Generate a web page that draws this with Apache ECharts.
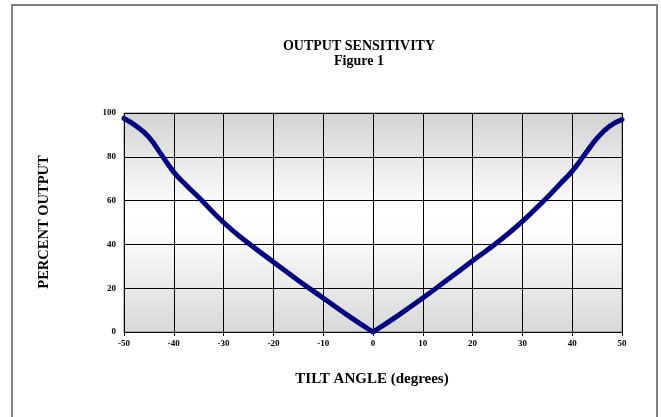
<!DOCTYPE html>
<html>
<head>
<meta charset="utf-8">
<script src="https://cdn.jsdelivr.net/npm/echarts@6/dist/echarts.min.js"></script>
<style>
  html, body { margin: 0; padding: 0; background: #ffffff; }
  #chart { width: 661px; height: 417px; }
</style>
</head>
<body>
<div id="chart"></div>
<script>
// Tilt angle (degrees) and percent output, split into the two branches of the V
const anglesLeft = [-50, -47.5, -45, -42.5, -40, -37.5, -35, -30, -25, -20, -15, -10, -5, 0];
const outputLeft = [97.5, 94, 89, 81, 73, 67, 61.5, 50, 40.5, 32, 23.5, 15.5, 7.5, 0];
const anglesRight = [0, 5, 10, 15, 20, 25, 30, 35, 37.5, 40, 42.5, 45, 47.5, 50];
const outputRight = [0, 7.5, 15.5, 24, 32.5, 41, 50.5, 61.5, 67.5, 73.5, 81, 88.5, 94, 97];

const xTicks = [-50, -40, -30, -20, -10, 0, 10, 20, 30, 40, 50];
const yTicks = [0, 20, 40, 60, 80, 100];

const titleText = 'OUTPUT SENSITIVITY';
const subtitleText = 'Figure 1';
const xName = 'TILT ANGLE (degrees)';
const yName = 'PERCENT OUTPUT';

const FONT = '"Liberation Serif", "Times New Roman", serif';

const pairs = (xs, ys) => xs.map((x, i) => [x, ys[i]]);

const lineStyle = { color: '#000080', width: 5, cap: 'round', join: 'round' };

const textStyleOf = (text, size) => ({
  text: text,
  fontFamily: FONT, fontWeight: 'bold', fontSize: size, fill: '#000',
  align: 'center', verticalAlign: 'middle'
});

const chart = echarts.init(document.getElementById('chart'), null, { renderer: 'canvas' });

chart.setOption({
  animation: false,
  backgroundColor: '#ffffff',
  graphic: [
    {
      type: 'rect',
      shape: { x: 12, y: 5, width: 645, height: 420 },
      style: { fill: 'none', stroke: '#808080', lineWidth: 2 },
      z: 100
    },
    { type: 'text', x: 359, y: 46, style: textStyleOf(titleText, 14) },
    { type: 'text', x: 359, y: 61, style: textStyleOf(subtitleText, 14) },
    { type: 'text', x: 372, y: 379, style: textStyleOf(xName, 15) },
    { type: 'text', x: 44, y: 222, rotation: Math.PI / 2, style: textStyleOf(yName, 14.5) }
  ],
  grid: {
    left: 124,
    right: 39,
    top: 113,
    bottom: 85,
    show: true,
    borderColor: '#808080',
    borderWidth: 1,
    backgroundColor: {
      type: 'linear', x: 0, y: 0, x2: 0, y2: 1,
      colorStops: [
        { offset: 0, color: '#d2d2d2' },
        { offset: 0.45, color: '#ffffff' },
        { offset: 0.55, color: '#fdfdfd' },
        { offset: 1, color: '#d8d8d8' }
      ]
    }
  },
  xAxis: {
    type: 'value',
    min: xTicks[0],
    max: xTicks[xTicks.length - 1],
    interval: 10,
    axisLine: { show: true, onZero: false, lineStyle: { color: '#000', width: 1 } },
    axisTick: { show: true, length: 4, lineStyle: { color: '#000' } },
    splitLine: { show: true, lineStyle: { color: '#000', width: 1 } },
    axisLabel: {
      fontFamily: FONT, fontWeight: 'bold', fontSize: 9, color: '#000', margin: 7
    }
  },
  yAxis: {
    type: 'value',
    min: yTicks[0],
    max: yTicks[yTicks.length - 1],
    interval: 20,
    axisLine: { show: true, lineStyle: { color: '#000', width: 1 } },
    axisTick: { show: true, length: 4, lineStyle: { color: '#000' } },
    splitLine: { show: true, lineStyle: { color: '#000', width: 1 } },
    axisLabel: {
      fontFamily: FONT, fontWeight: 'bold', fontSize: 9, color: '#000', margin: 8
    }
  },
  series: [
    {
      name: 'left',
      type: 'line',
      data: pairs(anglesLeft, outputLeft),
      smooth: 0.5,
      showSymbol: false,
      lineStyle: lineStyle,
      z: 5
    },
    {
      name: 'right',
      type: 'line',
      data: pairs(anglesRight, outputRight),
      smooth: 0.5,
      showSymbol: false,
      lineStyle: lineStyle,
      z: 5
    }
  ]
});
</script>
</body>
</html>
